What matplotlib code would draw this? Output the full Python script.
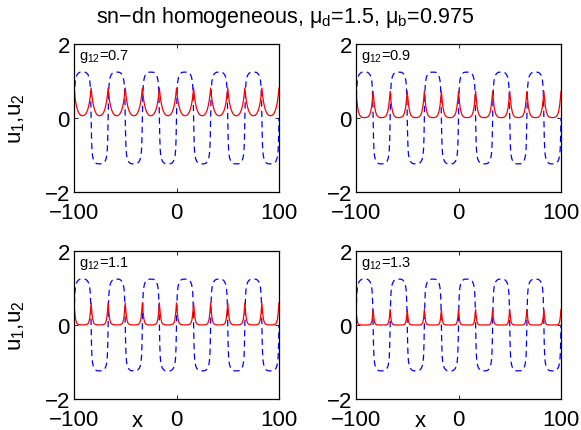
import numpy as np
import matplotlib
matplotlib.use("Agg")
import matplotlib.pyplot as plt

plt.rcParams['font.family'] = ['Liberation Sans', 'DejaVu Sans']
plt.rcParams['lines.scale_dashes'] = False

# ---- data ----
x_ticks = [-100, 0, 100]
y_ticks = [-2, 0, 2]
g12_values = [0.7, 0.9, 1.1, 1.3]
# positions of blue zero crossings / red peaks
node_x = [-100, -83.3, -66.7, -50.0, -33.3, -16.7, 0, 16.7, 33.3, 50.0, 66.7, 83.3, 100]
# blue (u1) half-period profile, from crossing to mid-plateau
blue_t = [0, 0.4, 0.8, 1.3, 2.0, 3.0, 4.2, 5.5, 8.33]
blue_u = [0, 0.55, 0.85, 1.0, 1.1, 1.17, 1.21, 1.235, 1.24]
# red (u2) profile from peak to trough, per panel
red_t = [0, 0.7, 1.5, 2.5, 3.5, 5.0, 6.5, 8.33]
red_u_07 = [0.81, 0.62, 0.45, 0.31, 0.21, 0.12, 0.075, 0.06]
red_u_09 = [0.72, 0.50, 0.30, 0.16, 0.08, 0.03, 0.015, 0.01]
red_u_11 = [0.60, 0.35, 0.16, 0.06, 0.025, 0.008, 0.003, 0.002]
red_u_13 = [0.42, 0.20, 0.07, 0.02, 0.005, 0.001, 0.0, 0.0]
red_profiles = [red_u_07, red_u_09, red_u_11, red_u_13]


def build_blue():
    xs, ys = [], []
    bt = np.array(blue_t)
    bu = np.array(blue_u)
    for k in range(len(node_x) - 1):
        a, b = node_x[k], node_x[k + 1]
        s = (b - a) / (2 * bt[-1])
        sign = 1 if k % 2 == 0 else -1
        left_x = a + bt * s
        right_x = b - bt[::-1] * s
        xs += list(left_x) + list(right_x[1:])
        ys += list(sign * bu) + list(sign * bu[::-1][1:])
    return xs, ys


def build_red(prof):
    xs, ys = [], []
    rt = np.array(red_t)
    ru = np.array(prof)
    for k in range(len(node_x) - 1):
        a, b = node_x[k], node_x[k + 1]
        s = (b - a) / (2 * rt[-1])
        left_x = a + rt * s
        right_x = b - rt[::-1] * s
        xs += list(left_x) + list(right_x[1:])
        ys += list(ru) + list(ru[::-1][1:])
    return xs, ys


W, H = 581, 431
fig = plt.figure(figsize=(W / 100, H / 100), dpi=100)

boxes = [(74, 45, 279, 193), (356, 45, 561, 193),
         (74, 252, 279, 400), (356, 252, 561, 400)]

bx, by = build_blue()
for i, (l, t, r, b) in enumerate(boxes):
    ax = fig.add_axes([l / W, 1 - b / H, (r - l) / W, (b - t) / H])
    ax.plot(bx, by, color=(0, 0, 1), lw=0.9, dashes=(4.5, 3.0))
    rx, ry = build_red(red_profiles[i])
    ax.plot(rx, ry, color=(1, 0, 0), lw=0.9)
    ax.set_xlim(-100, 100)
    ax.set_ylim(-2, 2)
    ax.set_xticks(x_ticks)
    ax.set_yticks(y_ticks)
    ax.set_xticklabels(['\u2212100', '0', '100'])
    ax.set_yticklabels(['\u22122', '0', '2'])
    ax.tick_params(direction='in', length=3, width=0.6, labelsize=16,
                   top=True, right=True)
    ax.tick_params(axis='x', pad=7)
    ax.tick_params(axis='y', pad=3)
    for sp in ax.spines.values():
        sp.set_linewidth(0.9)
    ax.text(-95, 1.68, '$\\mathregular{g_{12}}$=%.1f' % g12_values[i],
            fontsize=10.5, va='center', ha='left')
    if i % 2 == 0:
        ax.set_ylabel('$\\mathregular{u_1}$,$\\mathregular{u_2}$', fontsize=16)
        ax.yaxis.set_label_coords(-47 / (r - l), 0.5)

fig.text(137 / W, 1 - 422 / H, 'x', fontsize=16, ha='center', va='center')
fig.text(420 / W, 1 - 422 / H, 'x', fontsize=16, ha='center', va='center')
fig.text(285 / W, 1 - 17 / H,
         'sn\u2212dn homogeneous, $\\mathregular{\\mu_d}$=1.5, $\\mathregular{\\mu_b}$=0.975',
         fontsize=15.5, ha='center', va='center')

fig.savefig('out.png', dpi=100)
